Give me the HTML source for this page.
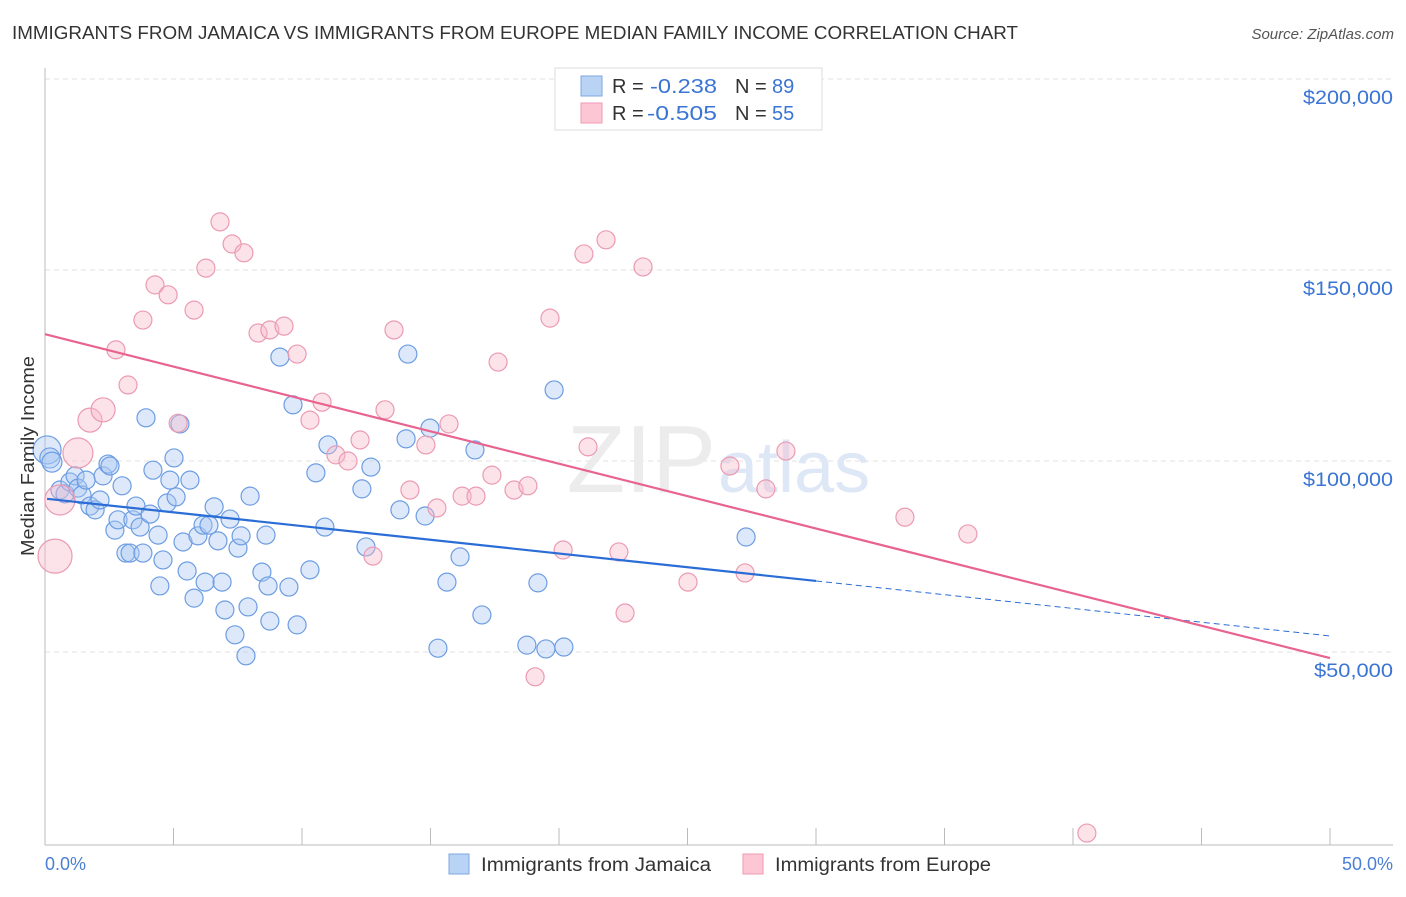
<!DOCTYPE html>
<html><head><meta charset="utf-8"><style>
body{margin:0;background:#fff;font-family:"Liberation Sans",sans-serif;}
svg text{font-family:"Liberation Sans",sans-serif;}
</style></head><body>
<svg id="chart" width="1406" height="892">
<text x="12" y="39" font-size="18" fill="#333" textLength="1006" lengthAdjust="spacingAndGlyphs">IMMIGRANTS FROM JAMAICA VS IMMIGRANTS FROM EUROPE MEDIAN FAMILY INCOME CORRELATION CHART</text>
<text x="1394" y="39" font-size="15" fill="#555" font-style="italic" text-anchor="end">Source: ZipAtlas.com</text>
<g id="grid"></g>
<text x="716" y="492" font-size="96" fill="#ececec" text-anchor="end" font-family="Liberation Serif">ZIP</text>
<text x="718" y="492" font-size="72" fill="#dde7f5">atlas</text>
<line x1="45" y1="68" x2="45" y2="845" stroke="#bbb"/>
<line x1="45" y1="845" x2="1393" y2="845" stroke="#bbb"/>
<g id="ticks"></g>
<g id="marks"></g>
<g id="lines"></g>
<text x="34" y="456" font-size="18" fill="#333" text-anchor="middle" textLength="200" lengthAdjust="spacingAndGlyphs" transform="rotate(-90 34 456)">Median Family Income</text>
<text x="45" y="870" font-size="18" fill="#4a7fd4">0.0%</text>
<text x="1393" y="870" font-size="18" fill="#4a7fd4" text-anchor="end">50.0%</text>
<g>
<rect x="555" y="68" width="267" height="62" fill="#fff" stroke="#ddd"/>
<rect x="581" y="76" width="21" height="20" fill="#b9d3f5" stroke="#7fa7e3"/>
<rect x="581" y="103" width="21" height="20" fill="#fcc6d5" stroke="#ee9ab3"/>
<text x="612" y="93" font-size="20" fill="#333">R = <tspan x="650" fill="#3a74d4" textLength="67" lengthAdjust="spacingAndGlyphs">-0.238</tspan><tspan x="735">N = </tspan><tspan x="772" fill="#3a74d4">89</tspan></text>
<text x="612" y="120" font-size="20" fill="#333">R = <tspan x="647" fill="#3a74d4" textLength="70" lengthAdjust="spacingAndGlyphs">-0.505</tspan><tspan x="735">N = </tspan><tspan x="772" fill="#3a74d4">55</tspan></text>
</g>
<g>
<rect x="449" y="854" width="20" height="20" fill="#b9d3f5" stroke="#7fa7e3"/>
<text x="481" y="871" font-size="19" fill="#333" textLength="230" lengthAdjust="spacingAndGlyphs">Immigrants from Jamaica</text>
<rect x="743" y="854" width="20" height="20" fill="#fcc6d5" stroke="#ee9ab3"/>
<text x="775" y="871" font-size="19" fill="#333" textLength="216" lengthAdjust="spacingAndGlyphs">Immigrants from Europe</text>
</g>
</svg>
<script>
const yTicks=[50,100,150,200];
const yTickLabels=["$50,000","$100,000","$150,000","$200,000"];
const xTicks=[0,5,10,15,20,25,30,35,40,45,50];
const jamX=[0.08,0.19,0.27,0.58,0.78,0.97,1.17,1.28,1.44,1.60,1.75,1.95,2.14,2.26,2.45,2.53,2.72,2.84,3.00,3.15,3.31,3.42,3.54,3.70,3.81,3.93,4.09,4.20,4.40,4.47,4.59,4.75,4.86,5.02,5.10,5.25,5.37,5.53,5.64,5.80,5.95,6.15,6.23,6.38,6.58,6.73,6.89,7.00,7.20,7.39,7.51,7.63,7.82,7.90,7.98,8.44,8.60,8.68,8.75,9.14,9.49,9.65,9.81,10.31,10.54,10.89,11.01,12.33,12.49,12.68,13.81,14.05,14.12,14.79,14.98,15.29,15.64,16.15,16.73,17.00,18.75,19.18,19.49,19.81,20.19,27.28];
const jamY=[102.9,100.8,99.7,92.4,91.4,94.5,96.1,92.9,91.1,95.0,88.2,87.2,89.8,96.1,99.2,98.7,81.9,84.6,93.5,75.9,75.9,84.6,88.2,82.7,75.9,111.3,86.1,97.6,80.6,67.3,74.1,89.0,95.0,100.8,90.6,109.7,78.8,71.2,95.0,64.1,80.4,83.2,68.3,83.2,88.0,79.1,68.3,61.0,84.8,54.5,77.2,80.4,49.0,61.8,90.8,70.9,80.6,67.3,58.1,127.2,67.0,114.7,57.1,71.5,96.9,82.7,104.2,92.7,77.5,98.4,87.2,105.8,128.0,85.6,108.6,51.0,68.3,74.9,102.9,59.7,51.8,68.1,50.8,118.6,51.3,80.1];
const jamR=[14,10,10,9,9,9,9,9,9,9,9,9,9,9,9,9,9,9,9,9,9,9,9,9,9,9,9,9,9,9,9,9,9,9,9,9,9,9,9,9,9,9,9,9,9,9,9,9,9,9,9,9,9,9,9,9,9,9,9,9,9,9,9,9,9,9,9,9,9,9,9,9,9,9,9,9,9,9,9,9,9,9,9,9,9,9];
const eurX=[0.39,0.58,1.28,1.75,2.26,2.76,3.23,3.81,4.28,4.79,5.18,5.80,6.26,6.81,7.28,7.74,8.29,8.75,9.30,9.81,10.31,10.78,11.32,11.79,12.26,12.76,13.23,13.58,14.20,14.82,15.25,15.72,16.23,16.77,17.39,17.63,18.25,18.79,19.07,19.65,20.16,20.97,21.13,21.83,22.33,22.57,23.27,25.02,26.65,27.24,28.05,28.83,33.46,35.91,40.54];
const eurY=[75.1,89.8,102.1,110.7,113.4,129.1,119.9,136.9,146.1,143.5,109.9,139.5,150.5,162.6,156.8,154.5,133.5,134.3,135.3,128.0,110.7,115.4,101.6,100.0,105.5,75.1,113.4,134.3,92.4,104.2,87.7,109.7,90.8,90.8,96.3,125.9,92.4,93.5,43.5,137.4,76.7,154.2,103.7,157.9,76.2,60.2,150.8,68.3,98.7,70.7,92.7,102.6,85.3,80.9,2.6];
const eurR=[17,15,15,12,12,9,9,9,9,9,9,9,9,9,9,9,9,9,9,9,9,9,9,9,9,9,9,9,9,9,9,9,9,9,9,9,9,9,9,9,9,9,9,9,9,9,9,9,9,9,9,9,9,9,9];
const jamTrend=[90.1,68.6,54.2]; // at x=0, x=30 (solid end), x=50
const eurTrend=[133.2,48.4]; // at x=0, x=50
const NS="http://www.w3.org/2000/svg";
function sx(p){return 45+p*25.7;}
function sy(v){return 843-v*3.82;}
function mk(tag,attrs,parent){const e=document.createElementNS(NS,tag);for(const k in attrs)e.setAttribute(k,attrs[k]);parent.appendChild(e);return e;}
const grid=document.getElementById('grid');
yTicks.forEach((t,i)=>{
  const l=mk('line',{x1:45,x2:1393,y1:sy(t),y2:sy(t),stroke:'#e2e2e2','stroke-dasharray':'5,4'},grid);
  
  
  const tx=mk('text',{x:1393,y:sy(t)+25,'font-size':19,fill:'#3a74d4','text-anchor':'end',textLength:(yTickLabels[i].length*11.3).toFixed(0),lengthAdjust:'spacingAndGlyphs'},grid);
  tx.textContent=yTickLabels[i];
  
  
});
mk('line',{x1:45,x2:1393,y1:79,y2:79,stroke:'#e2e2e2','stroke-dasharray':'5,4'},grid);
const ticks=document.getElementById('ticks');
xTicks.forEach(t=>{
  const l=mk('line',{x1:sx(t),x2:sx(t),y1:828,y2:845,stroke:'#bbb'},ticks);
  
  
});
const marks=document.getElementById('marks');
jamX.forEach((x,i)=>{
  const c=mk('circle',{cx:sx(x),cy:sy(jamY[i]),r:jamR[i],fill:'rgba(170,200,242,0.4)',stroke:'#6d9de2','stroke-width':1.2},marks);
  
  
});
eurX.forEach((x,i)=>{
  const c=mk('circle',{cx:sx(x),cy:sy(eurY[i]),r:eurR[i],fill:'rgba(248,185,203,0.4)',stroke:'#eb9ab2','stroke-width':1.2},marks);
  
  
});
const lines=document.getElementById('lines');
const b1=mk('line',{x1:sx(0.08),y1:sy(jamTrend[0]),x2:sx(30),y2:sy(jamTrend[1]),stroke:'#2b6dd6','stroke-width':2.2},lines);


const b2=mk('line',{x1:sx(30),y1:sy(jamTrend[1]),x2:sx(50),y2:sy(jamTrend[2]),stroke:'#2b6dd6','stroke-width':1,'stroke-dasharray':'6,4'},lines);


const p1=mk('line',{x1:sx(0),y1:sy(eurTrend[0]),x2:sx(50),y2:sy(eurTrend[1]),stroke:'#e8648f','stroke-width':2.2},lines);


</script>
</body></html>
